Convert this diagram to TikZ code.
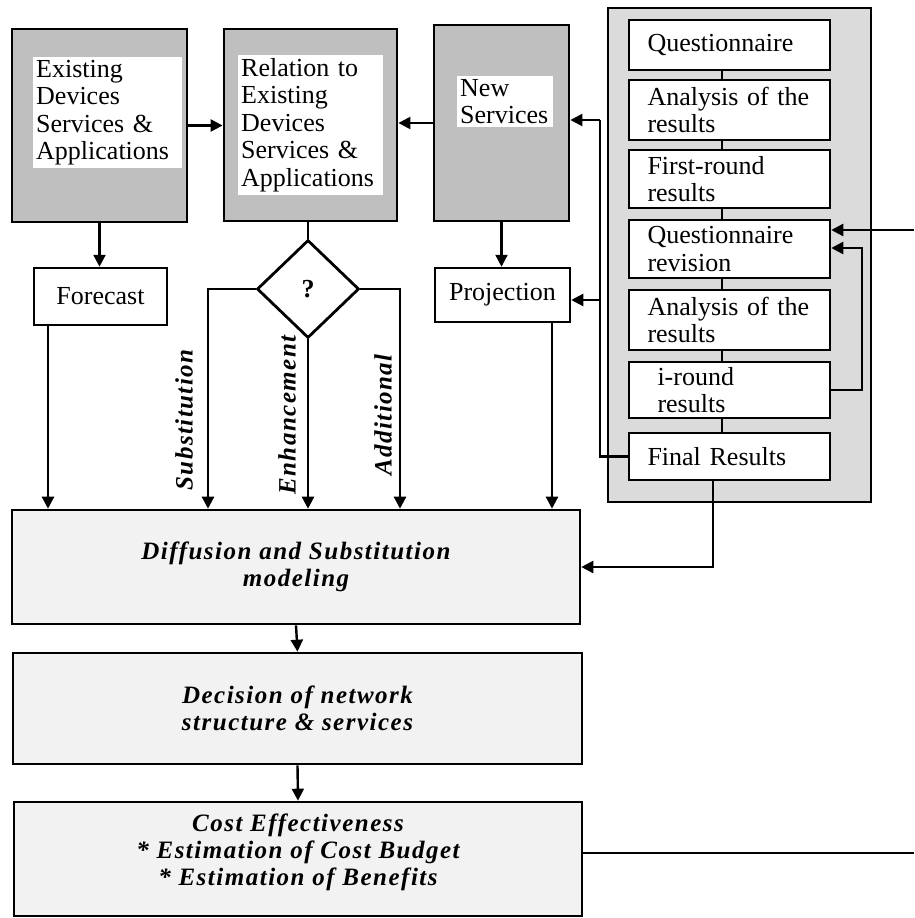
\documentclass[tikz,border=0pt]{standalone}
\usepackage{fontspec}
\setmainfont{Liberation Serif}
\newfontfamily\lowfont{Liberation Serif}[LetterSpace=6]
\usetikzlibrary{arrows.meta,shapes.geometric}
\begin{document}
\begin{tikzpicture}[x=1pt,y=-1pt,
  every node/.style={font=\fontsize{26}{27.5}\selectfont},
  darkbox/.style={draw, line width=2.8pt, fill=gray!50},
  whitebox/.style={draw, line width=2.5pt, fill=white},
  innerlab/.style={fill=white, align=left, inner xsep=3pt, inner ysep=3pt, anchor=north west},
  grpbox/.style={draw, line width=2.6pt, fill=gray!28},
  stepbox/.style={draw, line width=2.5pt, fill=white, minimum width=201pt, align=left, text width=164pt, inner xsep=0pt},
  lowbox/.style={draw, line width=2.6pt, fill=gray!10, align=center,
     font=\lowfont\bfseries\itshape\fontsize{25}{27}\selectfont},
  rotlab/.style={rotate=90, font=\lowfont\bfseries\itshape\fontsize{25}{27}\selectfont},
  line/.style={draw, line width=2.4pt},
  arr/.style={line, -{Triangle[length=12pt,width=12pt]}}
]
\useasboundingbox (0,0) rectangle (914,918);

% top gray boxes
\node[darkbox, minimum width=175pt, minimum height=193pt] (ex) at (99.5,125.5) {};
\node[innerlab, text width=143pt] (exT) at (33,57) {Existing\\Devices\\Services \&\\Applications};
\node[darkbox, minimum width=173pt, minimum height=192pt] (rel) at (310.5,125) {};
\node[innerlab, text width=139pt] (relT) at (238,55) {Relation to\\Existing\\Devices\\Services \&\\Applications};
\node[darkbox, minimum width=135pt, minimum height=196pt] (new) at (501.5,123) {};
\node[innerlab, text width=90pt] (newT) at (457,76) {New\\Services};

% second row
\node[whitebox, minimum width=133pt, minimum height=57pt] (fc) at (100.5,296.5) {Forecast};
\node[whitebox, minimum width=135pt, minimum height=54pt] (pj) at (502.5,295) {Projection};
\node[diamond, draw, line width=2.8pt, fill=white, minimum width=102pt, minimum height=98pt, inner sep=0pt] (q) at (308,289) {\textbf{?}};

% right group
\node[grpbox, minimum width=263pt, minimum height=494pt] (grp) at (739.5,255) {};
\node[stepbox, minimum height=50pt] (q1) at (729.5,45) {Questionnaire};
\node[stepbox, minimum height=60pt] (a1) at (729.5,110) {Analysis of the\\results};
\node[stepbox, minimum height=58pt] (f1) at (729.5,179) {First-round\\results};
\node[stepbox, minimum height=58pt] (qr) at (729.5,249) {Questionnaire\\revision};
\node[stepbox, minimum height=60pt] (a2) at (729.5,320) {Analysis of the\\results};
\node[stepbox, minimum height=56pt] (ir) at (729.5,390) {\hspace*{10pt}i-round\\\hspace*{10pt}results};
\node[stepbox, minimum height=47pt] (fr) at (729.5,456.5) {Final Results};

% lower boxes
\node[lowbox, minimum width=568pt, minimum height=114pt] (dif) at (296,567) {Diffusion and Substitution\\modeling};
\node[lowbox, minimum width=569pt, minimum height=111pt] (dec) at (297.5,708.5) {Decision of network\\structure \& services};
\node[lowbox, minimum width=568pt, minimum height=114pt] (cost) at (298,859) {Cost Effectiveness\\* Estimation of Cost Budget\\* Estimation of Benefits\\[-8pt]};

% rotated labels
\node[rotlab] (lsub) at (184,420) {Substitution};
\node[rotlab] (lenh) at (287,415) {Enhancement};
\node[rotlab] (ladd) at (383,415) {Additional};

% coordinates
\coordinate (cx) at (722,0);
\coordinate (fx) at (48,0);
\coordinate (px) at (552,0);
\coordinate (sl) at (208,0);
\coordinate (sr) at (400,0);
\coordinate (fbTop) at (600,120);
\coordinate (fbMid) at (600,300);
\coordinate (frx) at (713,0);
\coordinate (lp) at (862,248);
\coordinate (ext) at (914,230);
\coordinate (costend) at (914,853);

% connectors top
\draw[arr] (ex.east) -- (ex.east -| rel.west);
\draw[arr] (new.west) -- (new.west -| rel.east);
\draw[arr] (ex.south) -- (ex.south |- fc.north);
\draw[arr] (new.south) -- (new.south |- pj.north);
\draw[line] (q.north |- rel.south) -- (q.north);
\draw[arr] (q.west) -- (q.west -| sl) -- (dif.north -| sl);
\draw[arr] (q.east) -- (q.east -| sr) -- (dif.north -| sr);
\draw[arr] (q.south) -- (q.south |- dif.north);
\draw[arr] (fc.south -| fx) -- (dif.north -| fx);
\draw[arr] (pj.south -| px) -- (dif.north -| px);

% group internal
\draw[line] (q1.south -| cx) -- (a1.north -| cx);
\draw[line] (a1.south -| cx) -- (f1.north -| cx);
\draw[line] (f1.south -| cx) -- (qr.north -| cx);
\draw[line] (qr.south -| cx) -- (a2.north -| cx);
\draw[line] (a2.south -| cx) -- (ir.north -| cx);
\draw[line] (ir.south -| cx) -- (fr.north -| cx);
\draw[arr] (ir.east) -| (lp) -- (lp -| qr.east);
\draw[arr] (ext) -- (ext -| qr.east);

% feedback
\draw[line] (fr.west) -| (fbTop);
\draw[arr] (fbTop) -- (fbTop -| new.east);
\draw[arr] (fbMid) -- (fbMid -| pj.east);
\draw[arr] (fr.south -| frx) |- (dif.east);

% lower chain
\draw[arr] (dif.south) -- (dec.north);
\draw[arr] (dec.south) -- (cost.north);
\draw[line] (cost.east |- costend) -- (costend);
\end{tikzpicture}
\end{document}
